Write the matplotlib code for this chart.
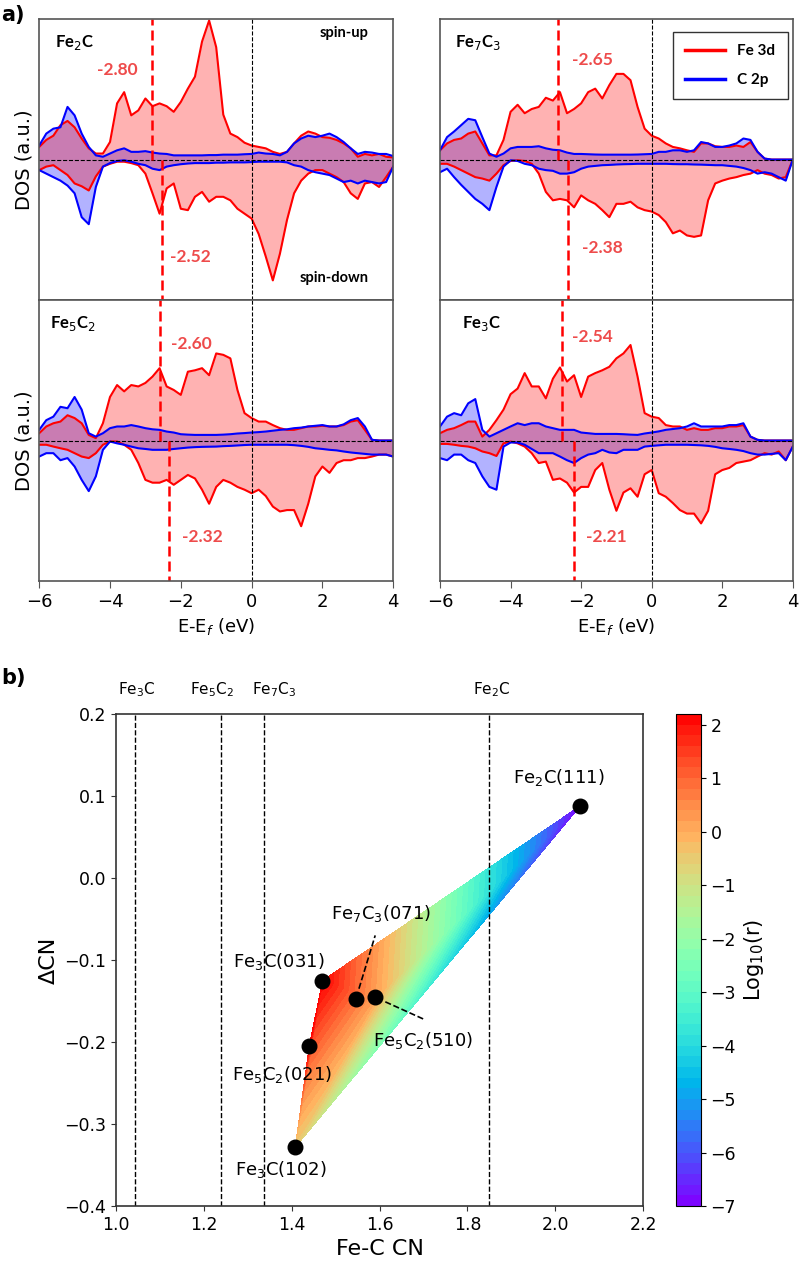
import numpy as np
import matplotlib
matplotlib.use("Agg")
import matplotlib.pyplot as plt
import matplotlib.transforms as mtransforms
import matplotlib.tri as mtri

# ---------------- data, panel a (DOS, a.u.) ----------------
E = np.linspace(-6, 4, 51)

fe2c_fe_up = [0.9, 1.4, 1.7, 2.45, 2.75, 2.3, 1.5, 0.8, 0.43, 0.43, 1.25, 4.0, 4.8, 3.15, 3.5, 4.35, 3.8,
              4.0, 3.8, 3.4, 4.1, 5.05, 5.9, 8.4, 9.9, 8.0, 3.2, 1.85, 1.6, 1.2, 1.0, 0.9, 0.8, 0.55,
              0.4, 0.55, 1.15, 1.7, 2.0, 1.85, 1.6, 1.55, 1.4, 1.15, 0.8, 0.2, 0.4, 0.3, 0.4, 0.2, 0.15]
fe2c_c_up = [1.0, 1.85, 2.2, 2.3, 3.75, 3.15, 1.85, 0.9, 0.3, 0.2, 0.43, 0.66, 0.8, 0.55, 0.55, 0.6, 0.5,
             0.43, 0.4, 0.3, 0.3, 0.3, 0.3, 0.3, 0.32, 0.32, 0.35, 0.35, 0.35, 0.38, 0.4, 0.5, 0.43, 0.4,
             0.3, 0.55, 1.15, 1.5, 1.7, 1.6, 1.7, 1.85, 1.6, 1.25, 0.8, 0.4, 0.55, 0.5, 0.4, 0.4, 0.25]
fe2c_fe_dn = [-0.75, -0.5, -0.4, -0.75, -1.1, -1.7, -1.9, -2.2, -1.2, -0.5, -0.3, -0.15, -0.15, -0.25,
              -0.4, -1.0, -2.4, -3.85, -2.05, -1.7, -3.5, -3.6, -2.65, -2.3, -3.0, -2.65, -2.65, -2.9,
              -3.5, -3.85, -4.2, -5.3, -6.9, -8.6, -6.7, -4.3, -2.4, -1.5, -1.0, -0.75, -0.75, -1.0,
              -1.25, -1.6, -2.4, -2.8, -1.7, -1.6, -1.95, -1.25, -0.5]
fe2c_c_dn = [-0.75, -1.0, -1.25, -1.5, -1.85, -2.4, -4.1, -4.6, -1.95, -0.5, -0.25, -0.1, -0.05, -0.15,
             -0.3, -0.4, -0.65, -0.75, -0.5, -0.4, -0.33, -0.28, -0.25, -0.25, -0.25, -0.22, -0.22, -0.2,
             -0.2, -0.2, -0.18, -0.15, -0.15, -0.15, -0.15, -0.2, -0.4, -0.5, -0.75, -0.9, -1.0, -1.1,
             -1.35, -1.6, -1.5, -1.7, -1.5, -1.6, -1.7, -1.6, -0.5]

fe7c3_fe_up = [0.66, 1.15, 1.4, 1.5, 1.85, 2.0, 1.15, 0.3, 0.3, 1.4, 3.4, 3.9, 3.3, 3.6, 3.75, 4.4, 4.2,
               4.8, 3.3, 3.6, 4.0, 4.8, 5.05, 4.35, 5.3, 6.1, 6.1, 5.65, 3.75, 2.2, 1.7, 1.5, 1.15, 0.9,
               0.8, 0.66, 0.55, 1.15, 1.15, 0.95, 0.9, 0.9, 1.0, 0.9, 1.25, 0.55, 0.07, 0, 0, 0, 0]
fe7c3_c_up = [0.66, 1.6, 2.0, 2.45, 2.9, 2.8, 1.6, 0.43, 0.2, 0.43, 0.8, 0.9, 0.9, 0.9, 0.95, 0.8, 0.7,
              0.66, 0.5, 0.4, 0.4, 0.38, 0.36, 0.35, 0.35, 0.35, 0.35, 0.35, 0.36, 0.38, 0.4, 0.55, 0.55,
              0.66, 0.66, 0.55, 0.66, 1.25, 1.15, 0.9, 0.9, 1.0, 1.15, 1.5, 1.4, 0.55, 0.07, 0, 0, 0, 0]
fe7c3_fe_dn = [-0.3, -0.3, -0.5, -0.75, -1.0, -1.25, -1.35, -1.5, -1.0, -0.4, -0.1, -0.05, -0.1, -0.3,
               -1.0, -2.3, -2.9, -2.8, -2.9, -3.4, -2.55, -2.9, -3.15, -3.6, -4.1, -3.15, -3.15, -3.0,
               -3.4, -3.6, -3.7, -3.95, -4.45, -5.25, -5.05, -5.4, -5.5, -5.4, -2.9, -1.7, -1.5, -1.35,
               -1.25, -1.1, -1.0, -0.75, -1.0, -1.1, -1.35, -1.25, 0]
fe7c3_c_dn = [-0.9, -0.65, -1.25, -1.8, -2.3, -2.8, -3.15, -3.6, -1.95, -0.5, -0.05, -0.1, -0.3, -0.4,
              -0.65, -0.75, -0.8, -1.0, -1.0, -0.9, -0.65, -0.5, -0.45, -0.4, -0.38, -0.35, -0.33, -0.32,
              -0.3, -0.3, -0.3, -0.3, -0.3, -0.32, -0.33, -0.33, -0.35, -0.36, -0.38, -0.4, -0.4, -0.45,
              -0.5, -0.6, -0.75, -1.0, -0.9, -1.0, -1.25, -1.5, 0]

fe5c2_fe_up = [0.52, 1.0, 1.23, 1.35, 1.8, 1.6, 1.23, 0.4, 0.17, 1.23, 3.1, 3.95, 3.5, 3.95, 3.85, 4.1,
               4.55, 5.15, 3.85, 3.6, 3.25, 4.9, 5.0, 5.15, 4.65, 6.2, 6.1, 5.85, 3.6, 1.95, 1.6, 1.35,
               1.35, 1.1, 0.88, 0.76, 0.76, 0.88, 1.0, 1.0, 1.05, 1.0, 1.0, 1.1, 1.35, 1.45, 0.76, 0.05,
               0, 0, 0]
fe5c2_c_up = [0.76, 1.45, 1.7, 2.4, 2.3, 3.1, 2.2, 0.52, 0.28, 0.52, 0.88, 1.0, 1.0, 1.1, 1.0, 0.88, 0.8,
              0.76, 0.64, 0.57, 0.45, 0.42, 0.4, 0.4, 0.4, 0.4, 0.42, 0.45, 0.5, 0.53, 0.57, 0.6, 0.64,
              0.7, 0.76, 0.8, 0.88, 0.92, 1.0, 1.05, 1.1, 1.0, 1.0, 1.15, 1.45, 1.6, 1.0, 0.05, 0, 0, 0]
fe5c2_fe_dn = [-0.3, -0.3, -0.43, -0.55, -0.66, -0.9, -1.14, -1.25, -0.9, -0.3, -0.07, -0.07, -0.3, -0.66,
               -1.6, -2.8, -3.0, -3.0, -2.8, -3.15, -2.8, -2.45, -2.7, -3.5, -4.5, -3.3, -2.8, -3.0, -3.3,
               -3.5, -3.75, -3.5, -3.95, -4.7, -5.05, -4.95, -4.95, -6.1, -4.5, -2.55, -1.85, -2.3, -1.6,
               -1.4, -1.4, -1.25, -1.25, -1.14, -1.0, -1.0, -1.14]
fe5c2_c_dn = [-1.14, -0.9, -0.9, -1.4, -1.25, -1.85, -2.8, -3.6, -2.55, -0.66, -0.07, -0.2, -0.3, -0.43,
              -0.55, -0.6, -0.66, -0.66, -0.66, -0.6, -0.55, -0.5, -0.47, -0.45, -0.44, -0.43, -0.4, -0.38,
              -0.35, -0.32, -0.3, -0.3, -0.3, -0.3, -0.3, -0.3, -0.33, -0.38, -0.45, -0.55, -0.6, -0.66,
              -0.7, -0.78, -0.85, -0.9, -0.95, -1.0, -1.0, -1.0, -1.14]

fe3c_fe_up = [0.52, 0.76, 0.88, 1.1, 1.35, 1.35, 0.28, 0.76, 1.45, 2.2, 3.3, 3.7, 4.8, 3.85, 3.85, 3.0,
              4.4, 5.2, 4.2, 4.65, 3.1, 4.55, 4.8, 5.0, 5.25, 5.85, 6.2, 6.8, 4.55, 1.95, 1.7, 1.6, 1.1,
              1.0, 1.0, 0.76, 0.88, 0.76, 0.76, 0.88, 0.88, 1.0, 1.0, 1.1, 0.28, 0.05, 0, 0, 0, 0, 0]
fe3c_c_up = [1.0, 1.7, 1.95, 1.8, 2.65, 2.95, 0.76, 0.28, 0.52, 0.76, 1.0, 1.23, 1.1, 1.23, 1.23, 1.0,
             0.88, 0.76, 0.76, 0.76, 0.57, 0.52, 0.47, 0.47, 0.47, 0.47, 0.45, 0.42, 0.4, 0.5, 0.57, 0.65,
             0.76, 0.82, 0.88, 1.0, 1.23, 1.0, 1.0, 1.0, 1.0, 1.1, 1.1, 1.23, 0.28, 0.05, 0, 0, 0, 0, 0]
fe3c_fe_dn = [-0.24, -0.24, -0.3, -0.38, -0.43, -0.55, -0.78, -0.9, -1.1, -0.2, -0.07, -0.2, -0.43, -0.9,
              -1.6, -1.5, -2.8, -2.7, -3.0, -3.7, -3.3, -3.3, -2.1, -1.6, -3.5, -5.0, -3.7, -3.4, -4.0,
              -2.4, -2.1, -3.75, -4.0, -4.45, -4.95, -5.2, -5.2, -5.9, -5.0, -2.4, -2.1, -1.95, -1.6,
              -1.5, -1.4, -1.14, -0.9, -1.0, -0.78, -1.4, -0.43]
fe3c_c_dn = [-1.25, -1.4, -1.0, -1.0, -1.4, -1.6, -2.55, -3.3, -3.5, -0.43, -0.14, -0.14, -0.3, -0.6,
             -0.9, -0.9, -0.9, -1.14, -1.4, -1.6, -1.25, -1.0, -0.9, -0.66, -0.85, -0.9, -0.66, -0.66,
             -0.66, -0.43, -0.38, -0.34, -0.3, -0.3, -0.3, -0.3, -0.32, -0.34, -0.38, -0.45, -0.55, -0.6,
             -0.66, -0.75, -0.9, -1.0, -1.0, -0.95, -0.9, -1.4, -0.43]

names = ["Fe$_2$C", "Fe$_7$C$_3$", "Fe$_5$C$_2$", "Fe$_3$C"]
dband_up = [-2.80, -2.65, -2.60, -2.54]
dband_dn = [-2.52, -2.38, -2.32, -2.21]

# ---------------- data, panel b ----------------
# order: Fe3C(102), Fe5C2(021), Fe3C(031), Fe7C3(071), Fe5C2(510), Fe2C(111)
cn = [1.408, 1.440, 1.470, 1.546, 1.590, 2.057]
dcn = [-0.328, -0.205, -0.125, -0.147, -0.145, 0.088]
logr = [-0.5, 2.2, 2.2, 0.8, 0.2, -7.0]
surf = ["Fe$_3$C(102)", "Fe$_5$C$_2$(021)", "Fe$_3$C(031)", "Fe$_7$C$_3$(071)", "Fe$_5$C$_2$(510)", "Fe$_2$C(111)"]
tris = [[0, 1, 2], [0, 2, 3], [0, 3, 4], [0, 4, 5], [2, 3, 4], [2, 4, 5]]
bulk_cn = [1.043, 1.239, 1.337, 1.85]
bulk = ["Fe$_3$C", "Fe$_5$C$_2$", "Fe$_7$C$_3$", "Fe$_2$C"]

red_txt = '#ee4b4b'
spine_c = '#555555'

fig = plt.figure(figsize=(8, 12.65), dpi=100)

pos = [[0.049, 0.7628, 0.4425, 0.2221], [0.55, 0.7628, 0.441, 0.2221],
       [0.049, 0.5407, 0.4425, 0.2221], [0.55, 0.5407, 0.441, 0.2221]]
curves = [(fe2c_fe_up, fe2c_c_up, fe2c_fe_dn, fe2c_c_dn),
          (fe7c3_fe_up, fe7c3_c_up, fe7c3_fe_dn, fe7c3_c_dn),
          (fe5c2_fe_up, fe5c2_c_up, fe5c2_fe_dn, fe5c2_c_dn),
          (fe3c_fe_up, fe3c_c_up, fe3c_fe_dn, fe3c_c_dn)]
name_x = [0.046, 0.042, 0.03, 0.062]
up_lab = [(-3.8, 6.4), (-1.67, 7.1), (-1.71, 6.9), (-1.67, 7.35)]
dn_lab = [(-1.73, -6.9), (-1.41, -6.3), (-1.40, -6.9), (-1.27, -6.9)]

for i in range(4):
    ax = fig.add_axes(pos[i])
    fu, cu, fd, cd = curves[i]
    ax.fill_between(E, cu, 0, color='blue', alpha=0.3, lw=0)
    ax.fill_between(E, cd, 0, color='blue', alpha=0.3, lw=0)
    ax.fill_between(E, fu, 0, color='red', alpha=0.3, lw=0)
    ax.fill_between(E, fd, 0, color='red', alpha=0.3, lw=0)
    l1, = ax.plot(E, fu, color='red', lw=1.5, label='Fe 3d')
    ax.plot(E, fd, color='red', lw=1.5)
    l2, = ax.plot(E, cu, color='blue', lw=1.5, label='C 2p')
    ax.plot(E, cd, color='blue', lw=1.5)
    ax.axhline(0, color='black', ls='--', lw=0.8)
    ax.axvline(0, color='black', ls='--', lw=0.8)
    ax.plot([dband_up[i]] * 2, [0, 10], color='red', ls='--', lw=1.8, dashes=(4, 2))
    ax.plot([dband_dn[i]] * 2, [0, -10], color='red', ls='--', lw=1.8, dashes=(4, 2))
    ax.set_xlim(-6, 4)
    ax.set_ylim(-10, 10)
    ax.set_yticks([])
    for s in ax.spines.values():
        s.set_color(spine_c)
        s.set_linewidth(1.2)
    ax.text(name_x[i], 0.915, names[i], transform=ax.transAxes, fontsize=12,
            fontweight='bold', family='Lato', va='center', ha='left')
    ax.text(up_lab[i][0], up_lab[i][1], '%.2f' % dband_up[i], color=red_txt, fontsize=12.5,
            fontweight='bold', family='Lato', ha='center', va='center')
    ax.text(dn_lab[i][0], dn_lab[i][1], '%.2f' % dband_dn[i], color=red_txt, fontsize=12.5,
            fontweight='bold', family='Lato', ha='center', va='center')
    if i < 2:
        ax.tick_params(axis='x', length=0, labelbottom=False)
    else:
        ax.set_xticks([-6, -4, -2, 0, 2, 4])
        ax.tick_params(axis='x', labelsize=13, length=5, color=spine_c)
        ax.set_xlabel('E-E$_f$ (eV)', fontsize=13)
    if i % 2 == 0:
        ax.set_ylabel('DOS (a.u.)', fontsize=14, labelpad=4)
    if i == 0:
        ax.text(0.93, 0.95, 'spin-up', transform=ax.transAxes, fontsize=10.5, fontweight='bold',
                family='Lato', ha='right', va='center')
        ax.text(0.93, 0.08, 'spin-down', transform=ax.transAxes, fontsize=10.5, fontweight='bold',
                family='Lato', ha='right', va='center')
    if i == 1:
        leg = ax.legend(handles=[l1, l2], loc='upper right', bbox_to_anchor=(0.985, 0.955),
                        borderaxespad=0, fancybox=False, edgecolor='black', handlelength=2.6,
                        borderpad=0.8, labelspacing=1.0,
                        prop={'family': 'Lato', 'weight': 'bold', 'size': 11})
        for ln in leg.get_lines():
            ln.set_linewidth(2.5)
        leg.get_frame().set_linewidth(1.0)

fig.text(0.002, 0.988, 'a)', fontsize=15, fontweight='bold', va='center')
fig.text(0.002, 0.464, 'b)', fontsize=15, fontweight='bold', va='center')

# ---------------- panel b ----------------
axb = fig.add_axes([0.145, 0.0466, 0.659, 0.389])
cax = fig.add_axes([0.845, 0.0466, 0.031, 0.389])
levels = np.linspace(-7, 2.2, 47)
tri = mtri.Triangulation(cn, dcn, tris)
cf = axb.tricontourf(tri, logr, levels=levels, cmap='rainbow')
axb.scatter(cn, dcn, s=110, color='black', zorder=5)
for xv in bulk_cn:
    axb.axvline(xv, color='black', ls='--', lw=1.0)
trans = mtransforms.blended_transform_factory(axb.transData, axb.transAxes)
bulk_lab_x = [1.048, 1.219, 1.360, 1.855]
for xv, lab in zip(bulk_lab_x, bulk):
    axb.text(xv, 1.049, lab, transform=trans, fontsize=11, ha='center', va='center')

lab_pos = [(1.375, -0.356), (1.378, -0.240), (1.371, -0.102), (1.604, -0.043), (1.70, -0.198), (2.007, 0.123)]
for (lx, ly), lab in zip(lab_pos, surf):
    axb.text(lx, ly, lab, fontsize=13, ha='center', va='center')
axb.plot([1.553, 1.59], [-0.135, -0.07], color='black', ls='--', lw=1.2)
axb.plot([1.613, 1.704], [-0.151, -0.173], color='black', ls='--', lw=1.2)

axb.set_xlim(1.0, 2.2)
axb.set_ylim(-0.4, 0.2)
axb.set_xticks(np.arange(1.0, 2.21, 0.2))
axb.set_yticks(np.arange(-0.4, 0.21, 0.1))
axb.tick_params(labelsize=12.5, color='#333333')
axb.set_xlabel('Fe-C CN', fontsize=16)
axb.set_ylabel('ΔCN', fontsize=16)
for s in axb.spines.values():
    s.set_color('#333333')
    s.set_linewidth(1.2)

cb = fig.colorbar(cf, cax=cax, ticks=range(-7, 3))
cb.ax.tick_params(labelsize=12.5)
cb.set_label('Log$_{10}$(r)', fontsize=15)

fig.savefig('out.png', dpi=100)
